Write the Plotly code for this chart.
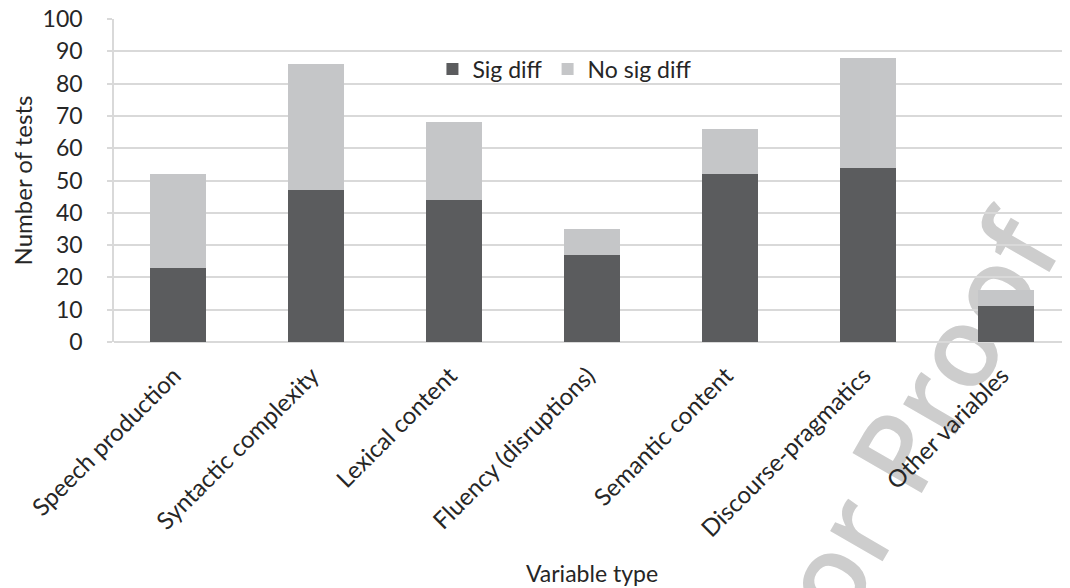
import plotly.graph_objects as go

categories = ["Speech production", "Syntactic complexity", "Lexical content",
              "Fluency (disruptions)", "Semantic content", "Discourse-pragmatics",
              "Other variables"]
sig_diff = [23, 47, 44, 27, 52, 54, 11]
no_sig_diff = [29, 39, 24, 8, 14, 34, 5]
y_ticks = [0, 10, 20, 30, 40, 50, 60, 70, 80, 90, 100]

FONT = "Lato"
TXT = "#262626"
GRID = "#d9d9d9"

fig = go.Figure()
fig.add_trace(go.Bar(x=categories, y=sig_diff, name="Sig diff",
                     marker=dict(color="#5b5c5e", line=dict(width=0))))
fig.add_trace(go.Bar(x=categories, y=no_sig_diff, name="No sig diff",
                     marker=dict(color="#c5c6c8", line=dict(width=0))))

# faint watermark, below the bars
fig.add_shape(type="line", xref="paper", yref="paper",
              x0=0.7678, y0=-0.6440, x1=0.9247, y1=0.1610,
              line=dict(width=0, color="rgba(0,0,0,0)"), layer="below",
              label=dict(text="or Proof", textposition="middle", textangle=-60,
                         xanchor="center", yanchor="middle",
                         font=dict(family="Open Sans", size=112, weight=600,
                                   color="#cdcdcd")))

fig.update_layout(
    width=1070, height=588,
    barmode="stack", bargap=0.6,
    plot_bgcolor="white", paper_bgcolor="white",
    margin=dict(l=106, r=8, t=11, b=254),
    font=dict(family=FONT, size=23, color=TXT),
    showlegend=True,
    legend=dict(orientation="h", x=0.4717, xanchor="center", y=0.845, yanchor="middle",
                bgcolor="rgba(0,0,0,0)", font=dict(size=23, color=TXT),
                itemwidth=30, traceorder="normal"),
)
fig.update_xaxes(
    range=[-0.464, 6.464], automargin=False,
    tickangle=-45, tickfont=dict(size=24, color=TXT),
    ticklabelshift=-4, ticklabelstandoff=14,
    showgrid=False, showline=False, ticks="",
    title=dict(text="Variable type", font=dict(size=23, color=TXT), standoff=24),
)
fig.update_yaxes(
    range=[0, 100], tickvals=y_ticks, automargin=False,
    showgrid=True, gridcolor=GRID, gridwidth=1.5,
    zeroline=True, zerolinecolor=GRID, zerolinewidth=1.5,
    showline=True, linecolor=GRID, linewidth=1.5,
    ticks="outside", ticklen=5, tickcolor=GRID, tickwidth=1.5,
    tickfont=dict(size=23, color=TXT), ticklabelstandoff=20,
    ticklabeloverflow="allow",
    title=dict(text="Number of tests", font=dict(size=24, color=TXT), standoff=16),
)

fig.write_html("out.html")
